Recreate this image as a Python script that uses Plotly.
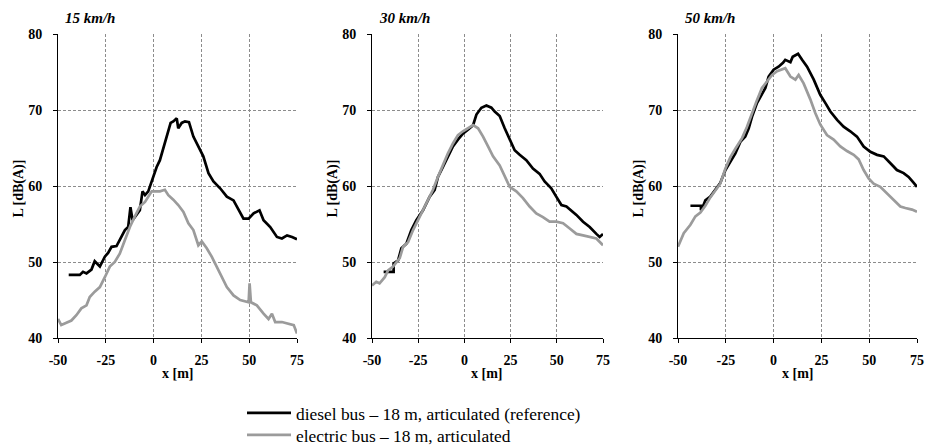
import plotly.graph_objects as go

# Pass-by noise levels of two articulated buses at three speeds
SPEEDS = ["15 km/h", "30 km/h", "50 km/h"]
SERIES_NAMES = [
    "diesel bus \u2013 18 m, articulated (reference)",
    "electric bus \u2013 18 m, articulated",
]
X_TICKS = [-50, -25, 0, 25, 50, 75]
Y_TICKS = [40, 50, 60, 70, 80]

# 15 km/h
X15_DIESEL = [-44.4, -38.6, -36.9, -35.1, -32.5, -30.8, -28.1, -25.5, -23.8, -22.0, -19.4, -17.7,
              -15.0, -13.3, -12.1, -11.0, -8.9, -7.2, -5.8, -4.5, -2.8, -1.0, 0.2, 1.6, 3.3, 5.4,
              6.8, 8.9, 10.3, 12.1, 12.9, 14.7, 16.4, 18.5, 20.8, 23.4, 26.0, 28.7, 31.3, 34.8,
              38.3, 41.8, 44.4, 47.0, 49.7, 52.3, 55.4, 57.5, 61.0, 64.5, 67.1, 69.8, 72.4, 75.0]
L15_DIESEL = [48.3, 48.3, 48.7, 48.5, 49.0, 50.1, 49.4, 50.7, 51.2, 52.0, 52.1, 52.9,
              54.2, 54.6, 57.2, 55.5, 56.2, 56.8, 59.3, 58.8, 59.3, 60.6, 61.2, 62.5, 63.4, 65.2,
              66.5, 68.3, 68.5, 68.9, 67.6, 68.3, 68.5, 68.4, 66.5, 65.2, 63.9, 61.7, 60.6, 59.7,
              58.6, 58.1, 56.8, 55.7, 55.7, 56.4, 56.8, 55.5, 54.6, 53.3, 53.1, 53.5, 53.3, 53.0]
X15_ELECTRIC = [-50.0, -48.3, -45.6, -43.0, -40.4, -37.8, -35.1, -33.4, -30.8, -28.1, -25.5, -22.9,
                -20.3, -17.7, -15.0, -12.4, -9.8, -7.2, -4.5, -2.8, -1.0, 0.7, 3.3, 5.9, 7.7, 10.3,
                12.9, 15.6, 18.2, 20.8, 23.4, 25.2, 27.8, 30.4, 33.0, 35.7, 38.3, 41.8, 45.3, 49.7,
                50.2, 50.9, 54.0, 57.5, 60.1, 61.9, 63.6, 67.1, 70.6, 73.3, 75.0]
L15_ELECTRIC = [42.5, 41.7, 42.0, 42.3, 43.0, 43.9, 44.3, 45.4, 46.1, 46.7, 48.0, 49.4,
                50.0, 51.1, 52.9, 54.6, 56.0, 57.3, 57.9, 58.6, 59.3, 59.3, 59.3, 59.5, 58.8, 58.2,
                57.5, 56.6, 55.1, 54.2, 52.2, 52.7, 51.8, 50.7, 49.4, 48.0, 46.7, 45.6, 45.0, 44.7,
                47.2, 44.7, 44.3, 43.2, 42.5, 43.2, 42.1, 42.1, 41.9, 41.7, 40.6]

# 30 km/h
X30_DIESEL = [-43.7, -38.3, -38.3, -35.9, -34.1, -31.4, -28.7, -26.0, -22.4, -18.8, -16.1, -14.3,
              -11.6, -8.9, -6.2, -3.5, -0.8, 1.9, 4.7, 6.5, 9.2, 11.9, 14.6, 16.4, 19.1, 21.8,
              24.5, 27.2, 29.9, 33.5, 37.1, 40.7, 43.4, 47.0, 49.7, 52.5, 55.2, 57.9, 60.6, 64.2,
              67.8, 71.4, 73.2, 75.0]
L30_DIESEL = [48.7, 48.7, 49.8, 50.2, 51.8, 52.4, 54.2, 55.5, 56.8, 58.6, 59.5, 61.2,
              62.5, 63.9, 65.2, 66.1, 66.9, 67.4, 68.0, 69.4, 70.3, 70.6, 70.3, 69.8, 69.2, 67.6,
              66.1, 64.7, 64.1, 63.4, 62.3, 61.6, 60.6, 59.7, 58.6, 57.5, 57.3, 56.8, 56.2, 55.3,
              54.6, 53.7, 53.3, 53.7]
X30_ELECTRIC = [-50.0, -47.7, -45.9, -43.1, -41.3, -38.6, -35.0, -33.2, -30.5, -27.8, -25.1, -22.4,
                -19.7, -17.0, -14.3, -11.6, -8.9, -6.2, -3.5, -0.8, 1.9, 4.7, 7.4, 10.1, 12.8, 15.5,
                19.1, 21.8, 24.5, 28.1, 31.7, 35.3, 38.9, 42.5, 46.1, 49.7, 53.4, 57.0, 60.6, 64.2,
                67.8, 71.4, 75.0]
L30_ELECTRIC = [46.9, 47.4, 47.2, 48.0, 48.9, 49.4, 50.5, 52.0, 52.6, 54.2, 55.5, 56.8,
                58.1, 59.5, 61.2, 62.8, 64.3, 65.6, 66.7, 67.2, 67.6, 68.0, 67.6, 66.5, 65.2, 63.9,
                62.7, 61.2, 59.9, 59.3, 58.4, 57.3, 56.4, 55.9, 55.3, 55.3, 55.1, 54.4, 53.7, 53.5,
                53.3, 53.1, 52.2]

# 50 km/h
X50_DIESEL = [-43.5, -39.2, -38.0, -38.0, -37.4, -35.7, -33.1, -30.5, -27.9, -25.2, -22.6, -20.0,
              -17.4, -14.8, -13.0, -11.3, -8.7, -6.1, -4.3, -2.6, 0.0, 2.6, 4.9, 6.1, 8.8, 10.0,
              12.8, 14.9, 17.5, 21.0, 24.4, 27.1, 29.7, 33.2, 36.6, 40.1, 43.6, 47.1, 50.6, 54.1,
              57.6, 61.1, 64.5, 68.0, 70.6, 73.3, 75.0]
L50_DIESEL = [57.4, 57.4, 57.4, 56.8, 57.0, 58.1, 58.6, 59.5, 60.4, 62.1, 63.2, 64.3,
              65.8, 66.5, 67.6, 69.1, 70.9, 72.2, 72.9, 74.4, 75.3, 75.7, 76.2, 76.6, 76.3, 77.0,
              77.4, 76.6, 75.7, 74.0, 72.0, 70.9, 69.8, 68.7, 67.8, 67.2, 66.5, 65.2, 64.5, 64.1,
              63.9, 63.0, 62.1, 61.7, 61.2, 60.4, 59.9]
X50_ELECTRIC = [-50.0, -47.0, -43.5, -40.9, -38.3, -35.7, -33.1, -30.5, -27.9, -25.2, -22.6, -20.0,
                -16.5, -13.9, -11.3, -8.7, -6.1, -3.5, -0.8, 1.8, 4.4, 6.1, 8.8, 11.4, 13.1, 15.7,
                19.2, 21.8, 24.4, 27.9, 31.4, 34.9, 38.4, 41.9, 44.5, 47.1, 49.7, 52.3, 55.8, 59.3,
                62.8, 66.3, 68.9, 72.4, 75.0]
L50_ELECTRIC = [52.0, 53.8, 54.9, 56.0, 56.5, 57.4, 58.5, 59.4, 60.3, 62.3, 63.8, 64.9,
                66.3, 67.8, 69.6, 71.3, 72.9, 73.8, 74.6, 75.1, 75.3, 75.5, 74.4, 74.0, 74.6, 73.5,
                71.4, 69.6, 68.1, 66.7, 66.1, 65.2, 64.6, 64.1, 63.5, 62.1, 61.0, 60.3, 59.9, 59.0,
                58.1, 57.3, 57.1, 56.9, 56.6]

PANELS = [
    ((X15_DIESEL, L15_DIESEL), (X15_ELECTRIC, L15_ELECTRIC)),
    ((X30_DIESEL, L30_DIESEL), (X30_ELECTRIC, L30_ELECTRIC)),
    ((X50_DIESEL, L50_DIESEL), (X50_ELECTRIC, L50_ELECTRIC)),
]

W, H = 925, 445
SERIF = "Liberation Serif"
LINE_COLORS = ["#000000", "#9b9b9b"]
LEGEND_IDS = ["legend", "legend2"]
# plot-area edges in pixels (left, right) and shared (top, bottom)
PANEL_PX = [(58, 297), (372, 603), (678, 917)]
TOP_PX, BOTTOM_PX = 34, 338
LEGEND_ROW_PX = [413, 435]


def px_x(p):
    return p / W


def px_y(p):
    return 1 - p / H


fig = go.Figure()

for i, series in enumerate(PANELS):
    suffix = "" if i == 0 else str(i + 1)
    for j, (xs, ys) in enumerate(series):
        fig.add_trace(go.Scatter(
            x=xs, y=ys, mode="lines",
            line=dict(color=LINE_COLORS[j], width=2.7),
            name=SERIES_NAMES[j],
            showlegend=(i == 0),
            legend=LEGEND_IDS[j],
            xaxis="x" + suffix, yaxis="y" + suffix,
            hoverinfo="skip",
        ))

tick_font = dict(family=SERIF, size=14, color="#000000", weight="bold")
layout = dict(
    width=W, height=H,
    margin=dict(l=0, r=0, t=0, b=0, autoexpand=False),
    paper_bgcolor="#ffffff", plot_bgcolor="#ffffff",
    font=dict(family=SERIF, color="#000000"),
    annotations=[],
)

# one single-row legend per series so the two rows sit close together
for lid, row in zip(LEGEND_IDS, LEGEND_ROW_PX):
    layout[lid] = dict(
        x=px_x(242), y=px_y(row), xanchor="left", yanchor="middle",
        font=dict(family=SERIF, size=17.4, color="#000000"),
        bgcolor="rgba(0,0,0,0)", itemwidth=44,
    )

for i, (l, r) in enumerate(PANEL_PX):
    suffix = "" if i == 0 else str(i + 1)
    layout["xaxis" + suffix] = dict(
        domain=[px_x(l), px_x(r)], anchor="y" + suffix, automargin=False,
        range=[X_TICKS[0], X_TICKS[-1]], tickvals=X_TICKS,
        ticktext=[str(v) for v in X_TICKS],
        showline=True, linecolor="#000000", linewidth=1,
        ticks="outside", ticklen=4, tickcolor="#000000",
        ticklabelstandoff=5,
        showgrid=True, gridcolor="#8c8c8c", gridwidth=1, griddash="3px,2px",
        zeroline=False, tickfont=tick_font, fixedrange=True,
    )
    layout["yaxis" + suffix] = dict(
        domain=[px_y(BOTTOM_PX), px_y(TOP_PX)], anchor="x" + suffix, automargin=False,
        range=[Y_TICKS[0], Y_TICKS[-1]], tickvals=Y_TICKS,
        showline=True, linecolor="#000000", linewidth=1,
        ticks="outside", ticklen=4, tickcolor="#000000",
        ticklabelstandoff=8,
        showgrid=True, gridcolor="#8c8c8c", gridwidth=1, griddash="3px,2px",
        zeroline=False, tickfont=tick_font, fixedrange=True,
    )
    # speed label above each panel
    layout["annotations"].append(dict(
        text="<b><i>" + SPEEDS[i] + "</i></b>", xref="paper", yref="paper",
        x=px_x(l + 5), y=px_y(18), xanchor="left", yanchor="middle",
        showarrow=False, font=dict(family=SERIF, size=15, color="#000000"),
    ))
    # y-axis title
    layout["annotations"].append(dict(
        text="<b>L [dB(A)]</b>", xref="paper", yref="paper",
        x=px_x(l - 39.5), y=px_y(189), xanchor="center", yanchor="middle",
        textangle=-90, showarrow=False,
        font=dict(family=SERIF, size=14, color="#000000"),
    ))
    # x-axis title
    layout["annotations"].append(dict(
        text="<b>x [m]</b>", xref="paper", yref="paper",
        x=px_x((l + r) / 2), y=px_y(373), xanchor="center", yanchor="middle",
        showarrow=False, font=dict(family=SERIF, size=14, color="#000000"),
    ))

fig.update_layout(**layout)

fig.write_html("out.html")
